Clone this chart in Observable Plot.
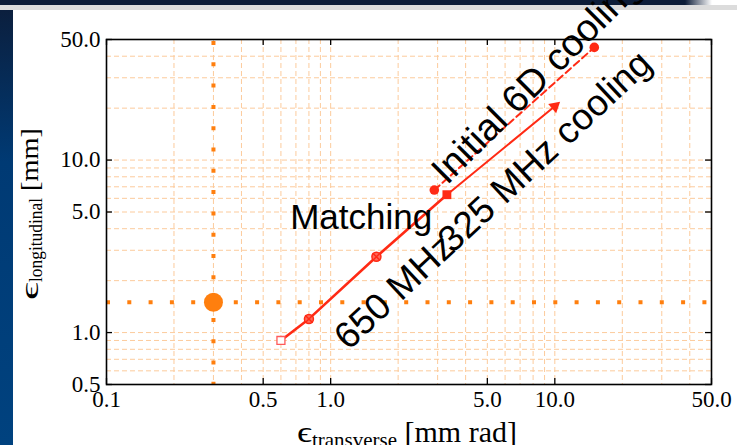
<!DOCTYPE html>
<html><head><meta charset="utf-8">
<script src="https://cdn.jsdelivr.net/npm/d3@7"></script>
<script src="https://cdn.jsdelivr.net/npm/@observablehq/plot@0.6"></script>
<style>
html,body{margin:0;padding:0;background:#fff;}
#wrap{position:relative;width:737px;height:445px;overflow:hidden;background:#fff;}
#topbar{position:absolute;left:0;top:0;width:737px;height:5px;background:linear-gradient(to right,#0c1c38 0,#0c1c38 685px,#ffffff 712px);}
#grayband{position:absolute;left:0;top:5px;width:737px;height:5px;background:#dcdcdc;}
#leftbar{position:absolute;left:0;top:10px;width:13px;height:435px;background:linear-gradient(#0b1f3e,#003a74 35%,#00427f);}
#chart{position:absolute;left:0;top:0;}
</style></head>
<body><div id="wrap"><div id="topbar"></div><div id="grayband"></div><div id="leftbar"></div><div id="chart"></div></div>
<script>
// Axis tick values
const xMajor = [0.1, 0.5, 1, 5, 10, 50];
const yMajor = [0.5, 1, 5, 10, 50];
const xMinor = [0.2, 0.3, 0.4, 0.5, 0.6, 0.7, 0.8, 0.9, 1, 2, 3, 4, 5, 6, 7, 8, 9, 10, 20, 30, 40];
const yMinor = [0.6, 0.7, 0.8, 0.9, 1, 2, 3, 4, 5, 6, 7, 8, 9, 10, 20, 30, 40];

// Matching / 650 MHz track
const trackX = [0.6, 0.8, 1.6, 3.3];
const trackY = [0.9, 1.2, 2.75, 6.3];
// 325 MHz cooling arrow
const coolX = [3.3, 10];
const coolY = [6.3, 20.5];
// Initial 6D cooling (dashed)
const initX = [2.9, 15];
const initY = [6.7, 45];
// Reference point (orange)
const refX = [0.3];
const refY = [1.5];

// Annotations
const labelText = ["Matching", "650 MHz", "325 MHz cooling", "Initial 6D cooling"];
const labelX = [0.66, 1.2, 3.49, 3.3];
const labelY = [3.96, 0.78, 2.84, 7.1];
const labelRotate = [0, -43, -43, -45];
const labelSize = [35, 37, 37, 38];

const zip = (xs, ys) => xs.map((x, i) => ({x, y: ys[i]}));
const track = zip(trackX, trackY);
const cool = zip(coolX, coolY);
const init = zip(initX, initY);
const ref = zip(refX, refY);
const labels = labelText.map((t, i) => ({t, x: labelX[i], y: labelY[i], r: labelRotate[i], s: labelSize[i]}));

const RED = "#ff2a14";
const ORANGE = "#ff7f0e";
const GRID = "#fccb9c";
const fmt = d => d.toFixed(1);

const plot = Plot.plot({
  width: 737, height: 445,
  marginLeft: 106, marginRight: 26, marginTop: 39, marginBottom: 61,
  style: {background: "transparent", overflow: "visible", fontFamily: "Liberation Serif", fontSize: "23px", color: "black"},
  x: {type: "log", domain: [0.1, 50], axis: null},
  y: {type: "log", domain: [0.5, 50], axis: null},
  marks: [
    Plot.gridX(xMinor, {stroke: GRID, strokeOpacity: 1, strokeDasharray: "5,3", strokeWidth: 1}),
    Plot.gridY(yMinor, {stroke: GRID, strokeOpacity: 1, strokeDasharray: "5,3", strokeWidth: 1}),
    Plot.ruleX(refX, {stroke: ORANGE, strokeWidth: 4, strokeDasharray: "4,17.3", strokeDashoffset: -2}),
    Plot.ruleY(refY, {stroke: ORANGE, strokeWidth: 4, strokeDasharray: "4,17.3", strokeDashoffset: 0}),
    Plot.dot(ref, {x: "x", y: "y", r: 9.5, fill: ORANGE}),
    Plot.line(init, {x: "x", y: "y", stroke: RED, strokeWidth: 2, strokeDasharray: "7,4"}),
    Plot.line(track, {x: "x", y: "y", stroke: RED, strokeWidth: 2.6}),
    Plot.line(cool, {x: "x", y: "y", stroke: RED, strokeWidth: 2}),
    Plot.dot(cool.slice(1), {x: "x", y: "y", symbol: "triangle", r: 4.5, fill: RED, rotate: 49}),
    Plot.dot(track.slice(0, 1), {x: "x", y: "y", symbol: "square", r: 4.5, stroke: "#ff5a5a", strokeWidth: 1.3, fill: "white"}),
    Plot.dot(track.slice(1, 3), {x: "x", y: "y", r: 4.5, stroke: RED, strokeWidth: 1.5, fill: "#ff6a5a"}),
    Plot.dot(track.slice(1, 3), {x: "x", y: "y", symbol: "times", r: 3.5, stroke: RED, strokeWidth: 1.5}),
    Plot.dot(track.slice(3), {x: "x", y: "y", symbol: "square", r: 5, fill: RED}),
    Plot.dot(init, {x: "x", y: "y", r: 4.8, fill: RED}),
    Plot.text(labels, {x: "x", y: "y", text: "t", rotate: "r", fontSize: "s", textAnchor: "start", lineAnchor: "bottom",
      fontFamily: "Liberation Sans", fill: "black"}),
    Plot.frame({stroke: "black", strokeWidth: 1.6}),
    Plot.tickX(xMajor, {x: d => d, insetTop: 339, stroke: "black", strokeWidth: 1.3}),
    Plot.tickX(xMajor, {x: d => d, insetBottom: 339, stroke: "black", strokeWidth: 1.3}),
    Plot.tickY(yMajor, {y: d => d, insetRight: 599, stroke: "black", strokeWidth: 1.3}),
    Plot.tickY(yMajor, {y: d => d, insetLeft: 599, stroke: "black", strokeWidth: 1.3}),
    Plot.text(xMajor, {x: d => d, text: fmt, frameAnchor: "bottom", lineAnchor: "top", dy: 6, ariaLabel: "xtick", fill: "black"}),
    Plot.text(yMajor, {y: d => d, text: fmt, frameAnchor: "left", textAnchor: "end", dx: -6, ariaLabel: "ytick", fill: "black"})
  ]
});
document.getElementById("chart").appendChild(plot);

const svg = d3.select(plot);
// widen tick labels to match the reference's letterforms
svg.selectAll('g[aria-label="xtick"] text, g[aria-label="ytick"] text').each(function() {
  const w = this.getComputedTextLength();
  d3.select(this).attr("textLength", w * 1.22).attr("lengthAdjust", "spacingAndGlyphs");
});

// y axis label
const yl = svg.append("text")
  .attr("transform", "translate(38,300) rotate(-90)")
  .attr("text-anchor", "start")
  .attr("font-family", "Liberation Serif")
  .attr("font-size", 26)
  .attr("fill", "black");
yl.append("tspan").attr("textLength", 18).attr("lengthAdjust", "spacingAndGlyphs").text("ϵ");
yl.append("tspan").attr("font-size", 19).attr("dy", 4).attr("textLength", 84).attr("lengthAdjust", "spacingAndGlyphs").text("longitudinal");
yl.append("tspan").attr("dy", -4).attr("textLength", 70).attr("lengthAdjust", "spacingAndGlyphs").text(" [mm]");
// x axis label
const xl = svg.append("text")
  .attr("transform", "translate(297,442)")
  .attr("text-anchor", "start")
  .attr("font-family", "Liberation Serif")
  .attr("font-size", 30)
  .attr("fill", "black");
xl.append("tspan").attr("textLength", 15).attr("lengthAdjust", "spacingAndGlyphs").text("ϵ");
xl.append("tspan").attr("font-size", 21).attr("dy", 5).attr("textLength", 85).attr("lengthAdjust", "spacingAndGlyphs").text("transverse");
xl.append("tspan").attr("dy", -5).attr("textLength", 120).attr("lengthAdjust", "spacingAndGlyphs").text(" [mm rad]");
</script>
</body></html>
